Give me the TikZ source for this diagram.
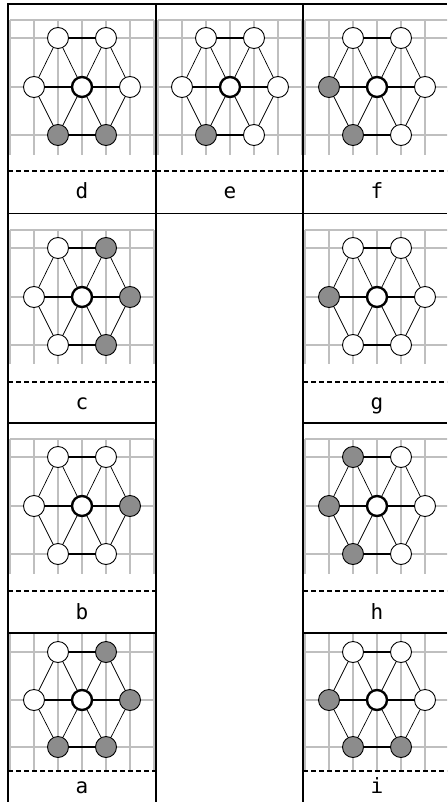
\documentclass[tikz,border=0pt]{standalone}
\usepackage{fontspec}
\newfontfamily\lblfont{DejaVu Sans Mono}
\begin{document}
\begin{tikzpicture}[x=1pt,y=-1pt,
  gridline/.style={draw=black!25,line width=1.5pt},
  border/.style={draw=black,line width=1.8pt},
  sep/.style={draw=black,line width=1.4pt,dash pattern=on 5pt off 3pt},
  hedge/.style={draw=black,line width=2pt},
  dedge/.style={draw=black,line width=0.7pt},
  vtx/.style={circle,draw=black,line width=0.9pt,minimum size=21pt,inner sep=0pt},
  ctr/.style={circle,draw=black,line width=2.4pt,fill=white,minimum size=20pt,inner sep=0pt},
  lbl/.style={anchor=base,inner sep=0pt,font=\lblfont\fontsize{21}{24}\selectfont}]
\clip (0,0) rectangle (447,802);
\useasboundingbox (0,0) rectangle (447,802);
\fill[white] (0,0) rectangle (447,802);
% row geometry: grid top, top row, mid row, bottom row, grid bottom, dashed, label baseline
\newcommand\rowgeom[7]{\def\Gt{#1}\def\Ya{#2}\def\Yb{#3}\def\Yc{#4}\def\Gb{#5}\def\Yd{#6}\def\Yl{#7}}
% cell: name, x0, label, fills tl tr ml mr bl br
\newcommand\hexcell[9]{%
  \foreach \k in {0,...,6}{\draw[gridline] ({#2+2+24*\k},\Gt) -- ({#2+2+24*\k},\Gb);}
  \foreach \yy in {\Gt,\Ya,\Yb,\Yc}{\draw[gridline] ({#2+2},\yy) -- ({#2+146},\yy);}
  \coordinate (#1-dl) at (#2,\Yd);
  \coordinate (#1-dr) at ({#2+147},\Yd);
  \draw[sep] (#1-dl) -- (#1-dr);
  \node[vtx,fill=#4] (#1-tl) at ({#2+50},\Ya) {};
  \node[vtx,fill=#5] (#1-tr) at ({#2+98},\Ya) {};
  \node[vtx,fill=#6] (#1-ml) at ({#2+26},\Yb) {};
  \node[ctr] (#1-c) at ({#2+74},\Yb) {};
  \node[vtx,fill=#7] (#1-mr) at ({#2+122},\Yb) {};
  \node[vtx,fill=#8] (#1-bl) at ({#2+50},\Yc) {};
  \node[vtx,fill=#9] (#1-br) at ({#2+98},\Yc) {};
  \draw[hedge] (#1-tl) -- (#1-tr);
  \draw[hedge] (#1-ml) -- (#1-c);
  \draw[hedge] (#1-c) -- (#1-mr);
  \draw[hedge] (#1-bl) -- (#1-br);
  \draw[dedge] (#1-tl) -- (#1-ml);
  \draw[dedge] (#1-tl) -- (#1-c);
  \draw[dedge] (#1-tr) -- (#1-c);
  \draw[dedge] (#1-tr) -- (#1-mr);
  \draw[dedge] (#1-ml) -- (#1-bl);
  \draw[dedge] (#1-c) -- (#1-bl);
  \draw[dedge] (#1-c) -- (#1-br);
  \draw[dedge] (#1-mr) -- (#1-br);
  \node[lbl] (#1-lab) at ({#2+74},\Yl) {#3};
}
\colorlet{G}{black!45}
% row 1
\rowgeom{20}{38}{87}{135}{155}{171}{199}
\hexcell{d}{8}{d}{white}{white}{white}{white}{G}{G}
\hexcell{e}{156}{e}{white}{white}{white}{white}{G}{white}
\hexcell{f}{303}{f}{white}{white}{G}{white}{G}{white}
% row 2
\rowgeom{230}{248}{297}{345}{364}{382}{409}
\hexcell{c}{8}{c}{white}{G}{white}{G}{white}{G}
\hexcell{g}{303}{g}{white}{white}{G}{white}{white}{white}
% row 3
\rowgeom{439}{457}{506}{554}{574}{591}{619}
\hexcell{b}{8}{b}{white}{white}{white}{G}{white}{white}
\hexcell{h}{303}{h}{G}{white}{G}{white}{G}{white}
% row 4
\rowgeom{633}{652}{700}{747}{771}{771}{793}
\hexcell{a}{8}{a}{white}{G}{white}{G}{G}{G}
\hexcell{i}{303}{i}{white}{white}{G}{white}{G}{G}
% borders
\draw[border] (8,4) -- (447,4);
\draw[border] (8,3.1) -- (8,802);
\draw[border] (156,4) -- (156,802);
\draw[border] (303,4) -- (303,802);
\draw[border] (8,213.5) -- (447,213.5);
\draw[border] (8,423) -- (156,423);
\draw[border] (303,423) -- (447,423);
\draw[border] (8,633) -- (156,633);
\draw[border] (303,633) -- (447,633);
\end{tikzpicture}
\end{document}
